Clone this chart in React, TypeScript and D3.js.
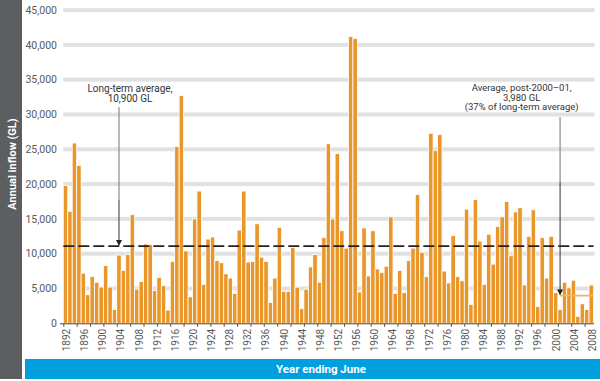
import React from "react";
import * as d3 from "d3";

// Annual inflow (GL), one bar per year
const inflow: number[] = [
  19800, 16100, 25900, 22700, 7200, 4100, 6700, 5900, 5200, 8300,
  5200, 2000, 9800, 7600, 9900, 15600, 4900, 6000, 11400, 11300,
  4700, 6600, 5400, 1900, 8900, 25400, 32700, 10400, 3800, 15000,
  19000, 5600, 12100, 12400, 9000, 8700, 7100, 6500, 4300,
  13400, 19000, 8800, 8900, 14300, 9500, 8900, 3000, 6500, 13800,
  4600, 4600, 10900, 5200, 2100, 4900, 8100, 9900, 5900, 12300, 25800,
  15000, 24400, 13300, 10800, 41200, 40900, 4500, 13700, 6800, 13300,
  7800, 7300, 8200, 15300, 4300, 7600, 4400, 9000, 10800,
  18500, 10200, 6700, 27300, 24800, 27100, 7500, 5800, 12600, 6700,
  6100, 16400, 2700, 17800, 11800, 5600, 12800, 8500, 13900, 15300,
  17500, 9700, 16000, 16600, 5500, 12500, 16300, 2400, 12300, 6500,
  12500, 4400, 2000, 5900, 5100, 6200, 1000, 2800, 2000, 5500,
];

const yTicks: number[] = [0, 5000, 10000, 15000, 20000, 25000, 30000, 35000, 40000, 45000];
const yearLabels: number[] = d3.range(1892, 2009, 4);
const longTermAverageLine = 11100;
const postAverage = 3980;
const postAverageStartBar = 111;
const longTermArrowBar = 12;

const longTermText: string[] = ["Long-term average,", "10,900 GL"];
const postText: string[] = ["Average, post-2000\u201301,", "3,980 GL", "(37% of long-term average)"];

const W = 600;
const H = 381;
const left = 63.3;
const right = 593.5;
const base = 323.3;

export default function App() {
  const x = d3.scaleBand<number>().domain(d3.range(inflow.length)).range([left, right]).padding(0);
  const bw = x.bandwidth();
  const y = d3.scaleLinear().domain([0, 45000]).range([base, 10.1]);
  const xl = d3
    .scaleLinear()
    .domain([yearLabels[0], yearLabels[yearLabels.length - 1]])
    .range([(x(0) as number) + bw / 2 + 1, (x(inflow.length - 1) as number) + bw / 2 + 1]);
  const fmt = d3.format(",");
  const font = "Roboto, 'DejaVu Sans', sans-serif";

  const a1x = (x(longTermArrowBar) as number) + bw / 2;
  const a2x = (x(postAverageStartBar) as number) + bw / 2;
  const ltY = y(longTermAverageLine);
  const paY = y(postAverage);

  const arrowHead = (cx: number, tip: number) =>
    `M${cx - 3},${tip - 6}L${cx + 3},${tip - 6}L${cx},${tip}Z`;

  return (
    <svg
      width={W}
      height={H}
      style={{ position: "absolute", left: 0, top: 0, background: "#fff" }}
      fontFamily={font}
    >
      {/* gridlines */}
      {yTicks.filter((t) => t > 0).map((t) => (
        <rect key={t} x={left} y={y(t) - 2} width={right - left + 1} height={4} fill="#e1e1e2" />
      ))}
      {/* bars */}
      {inflow.map((v, i) => (
        <rect
          key={i}
          x={x(i) as number}
          y={y(v)}
          width={bw}
          height={base - y(v)}
          fill="#e9962a"
          stroke="#fff"
          strokeWidth={0.8}
        />
      ))}
      {/* post-2000 average */}
      <line x1={a2x} x2={right} y1={paY} y2={paY} stroke="#f5b565" strokeWidth={1.6} />
      {/* long-term average dashed */}
      <line
        x1={left}
        x2={right}
        y1={ltY}
        y2={ltY}
        stroke="#222"
        strokeWidth={1.7}
        strokeDasharray="11,4"
      />
      {/* x axis */}
      <line x1={left - 3.3} x2={right + 0.5} y1={base + 0.5} y2={base + 0.5} stroke="#444" strokeWidth={1} />
      {d3.range(0, inflow.length, 3).map((i) => (
        <line
          key={i}
          x1={(x(i) as number) + 0.5}
          x2={(x(i) as number) + 0.5}
          y1={base + 0.5}
          y2={base + 3.5}
          stroke="#555"
          strokeWidth={1}
        />
      ))}
      {yearLabels.map((yr) => (
        <text
          key={yr}
          transform={`translate(${xl(yr)},${base + 5.5}) rotate(-90)`}
          textAnchor="end"
          dy="0.35em"
          fontSize={10}
          fill="#58595b"
        >
          {yr}
        </text>
      ))}
      {/* y labels */}
      {yTicks.map((t) => (
        <text key={t} x={57} y={y(t)} dy="0.35em" textAnchor="end" fontSize={10.5} fill="#58595b">
          {fmt(t)}
        </text>
      ))}
      {/* annotation 1 */}
      {longTermText.map((s, k) => (
        <text key={s} x={130} y={91.5 + k * 10.5} textAnchor="middle" fontSize={10} fill="#333">
          {s}
        </text>
      ))}
      <line x1={a1x} x2={a1x} y1={107} y2={200} stroke="#8a8a8a" strokeWidth={1.2} />
      <line x1={a1x} x2={a1x} y1={200} y2={ltY - 5} stroke="#333" strokeWidth={1} />
      <path d={arrowHead(a1x, ltY)} fill="#222" />
      {/* annotation 2 */}
      {postText.map((s, k) => (
        <text key={s} x={521.7} y={91 + k * 9.7} textAnchor="middle" fontSize={9.5} fill="#333">
          {s}
        </text>
      ))}
      <line x1={a2x} x2={a2x} y1={117} y2={182} stroke="#8a8a8a" strokeWidth={1.2} />
      <line x1={a2x} x2={a2x} y1={182} y2={paY - 5} stroke="#333" strokeWidth={1} />
      <path d={arrowHead(a2x, paY)} fill="#222" />
      {/* axis title bands */}
      <rect x={0} y={0} width={22} height={379} fill="#5d5e60" />
      <text
        transform={`translate(12,164) rotate(-90)`}
        textAnchor="middle"
        dy="0.35em"
        fontSize={11}
        fontWeight="bold"
        fill="#fff"
      >
        Annual inflow (GL)
      </text>
      <rect x={25} y={359} width={575} height={20} fill="#00a0df" />
      <text x={321} y={369} dy="0.35em" textAnchor="middle" fontSize={11.5} fontWeight="bold" fill="#fff">
        Year ending June
      </text>
    </svg>
  );
}
